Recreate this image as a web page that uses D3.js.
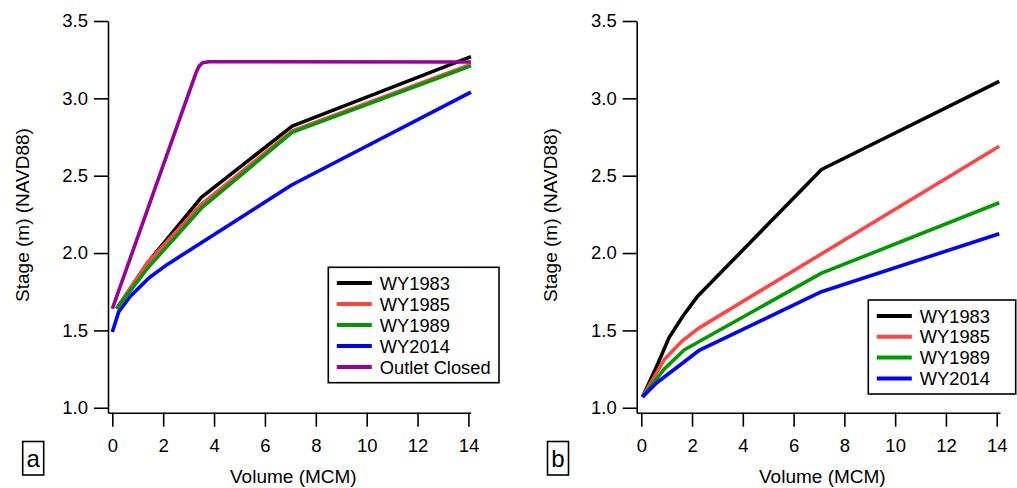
<!DOCTYPE html>
<html>
<head>
<meta charset="utf-8">
<script src="https://cdn.jsdelivr.net/npm/d3@7"></script>
<style>
  body { margin: 0; background: #fff; }
  svg text { font-family: "Liberation Sans", Arial, sans-serif; fill: #000; }
</style>
</head>
<body>
<div id="main"></div>
<script>
// stage-volume curves, [volume MCM, stage m]
const seriesNames = ["WY1983", "WY1985", "WY1989", "WY2014", "Outlet Closed"];
const seriesColors = ["#000000", "#ff4444", "#009900", "#0000ff", "#990099"];

const a1983 = [[0.17, 1.64], [1.4, 1.94], [3.5, 2.36], [7.07, 2.82], [14.1, 3.27]];
const a1985 = [[0.17, 1.64], [1.4, 1.94], [3.5, 2.315], [7.07, 2.79], [14.1, 3.22]];
const a1989 = [[0.17, 1.64], [1.4, 1.905], [3.5, 2.29], [7.07, 2.78], [14.1, 3.21]];
const a2014 = [[0, 1.49], [0.25, 1.62], [0.7, 1.72], [1.45, 1.84], [2.15, 1.925], [7.05, 2.44], [14.1, 3.04]];
const aClosed = [[0, 1.64], [1.5, 2.335], [3.3, 3.17], [3.42, 3.21], [3.55, 3.23], [3.8, 3.237], [14.1, 3.235]];

const b1983 = [[0.05, 1.07], [0.6, 1.265], [1.1, 1.455], [1.65, 1.595], [2.2, 1.717], [7.1, 2.54], [14.1, 3.11]];
const b1985 = [[0.05, 1.07], [0.9, 1.31], [1.6, 1.43], [2.25, 1.513], [14.1, 2.69]];
const b1989 = [[0.05, 1.07], [0.9, 1.25], [1.7, 1.375], [2.3, 1.43], [7.1, 1.87], [14.1, 2.325]];
const b2014 = [[0.05, 1.07], [0.6, 1.16], [2.3, 1.373], [7.1, 1.75], [14.1, 2.125]];

const xTicks = [0, 2, 4, 6, 8, 10, 12, 14];
const yTicks = [1.0, 1.5, 2.0, 2.5, 3.0, 3.5];

const ctx = { width: 1017, height: 488, top: 21, bottom: 412.7 };

const svg = d3.select("#main").append("svg")
  .attr("width", ctx.width)
  .attr("height", ctx.height);

function drawPanel(p) {
  let x = d3.scaleLinear().domain(p.xDomain).range([p.left, p.right]);
  let y = d3.scaleLinear().domain([0.968, 3.5]).range([ctx.bottom, ctx.top]);
  let g = svg.append("g");

  // axes
  let ax = g.append("g")
    .attr("transform", "translate(0," + ctx.bottom + ")")
    .call(d3.axisBottom(x).tickValues(xTicks).tickFormat(d3.format("d"))
      .tickSizeInner(14).tickSizeOuter(0).tickPadding(12));
  let ay = g.append("g")
    .attr("transform", "translate(" + p.left + ",0)")
    .call(d3.axisLeft(y).tickValues(yTicks).tickFormat(d3.format(".1f"))
      .tickSizeInner(14).tickSizeOuter(0).tickPadding(6));
  [ax, ay].forEach(function(a) {
    a.selectAll("path, line").attr("stroke", "#000").attr("stroke-width", 1.6);
    a.selectAll("text").attr("font-size", 18.5).attr("font-family", "Liberation Sans, Arial, sans-serif");
  });

  g.append("text")
    .attr("x", (p.left + p.right) / 2 + 4)
    .attr("y", 483)
    .attr("text-anchor", "middle")
    .attr("font-size", 19)
    .text("Volume (MCM)");
  g.append("text")
    .attr("transform", "translate(" + p.titleX + ",215) rotate(-90)")
    .attr("text-anchor", "middle")
    .attr("font-size", 19)
    .text("Stage (m) (NAVD88)");

  // lines
  let line = d3.line().x(function(d) { return x(d[0]); }).y(function(d) { return y(d[1]); });
  p.order.forEach(function(i) {
    g.append("path")
      .datum(p.series[i])
      .attr("d", line)
      .attr("fill", "none")
      .attr("stroke", seriesColors[i])
      .attr("stroke-width", 3.6)
      .attr("stroke-linejoin", "round");
  });

  // legend
  let lg = g.append("g");
  lg.append("rect")
    .attr("x", p.legend.x).attr("y", p.legend.y)
    .attr("width", p.legend.w).attr("height", p.legend.h)
    .attr("fill", "#fff").attr("stroke", "#000").attr("stroke-width", 1.6);
  p.series.forEach(function(s, i) {
    let cy = p.legend.y0 + i * p.legend.dy;
    lg.append("line")
      .attr("x1", p.legend.x + 8.5).attr("x2", p.legend.x + 43.5)
      .attr("y1", cy).attr("y2", cy)
      .attr("stroke", seriesColors[i]).attr("stroke-width", 4);
    lg.append("text")
      .attr("x", p.legend.x + 51.5)
      .attr("y", cy + 6.5)
      .attr("font-size", 18.3)
      .text(seriesNames[i]);
  });

  // panel letter
  g.append("rect")
    .attr("x", p.tagX).attr("y", 441.5).attr("width", 21).attr("height", 33.5)
    .attr("fill", "none").attr("stroke", "#000").attr("stroke-width", 1.6);
  g.append("text")
    .attr("x", p.tagX + 10.5).attr("y", 466.5)
    .attr("text-anchor", "middle")
    .attr("font-size", 24)
    .text(p.tag);
}

drawPanel({
  left: 108, right: 470.7, xDomain: [-0.17, 14.09], titleX: 29,
  series: [a1983, a1985, a1989, a2014, aClosed],
  order: [3, 0, 1, 2, 4],
  legend: { x: 328.3, y: 267.3, w: 170.7, h: 115.4, y0: 283, dy: 21 },
  tagX: 22.7, tag: "a"
});

drawPanel({
  left: 636.7, right: 1000, xDomain: [-0.18, 14.13], titleX: 557,
  series: [b1983, b1985, b1989, b2014],
  order: [0, 1, 2, 3],
  legend: { x: 868.3, y: 300, w: 147.4, h: 94, y0: 316, dy: 20.8 },
  tagX: 547.5, tag: "b"
});
</script>
</body>
</html>
